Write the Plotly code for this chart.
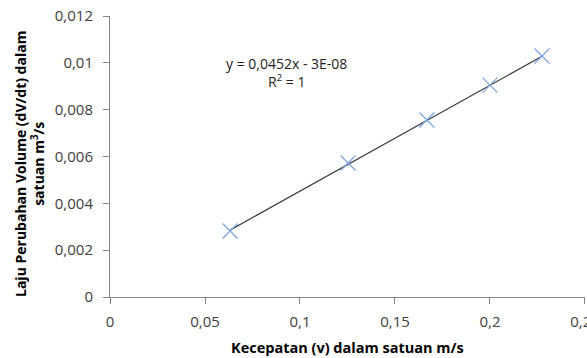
import plotly.graph_objects as go

# Data
kecepatan = [0.0632, 0.1253, 0.1668, 0.2000, 0.2274]
laju_volume = [0.00282, 0.00572, 0.00756, 0.00905, 0.01029]

# Trendline (from displayed equation)
slope = 0.0452
intercept = -3e-08

x_tickvals = [0, 0.05, 0.1, 0.15, 0.2, 0.25]
x_ticktext = ["0", "0,05", "0,1", "0,15", "0,2", "0,25"]
y_tickvals = [0, 0.002, 0.004, 0.006, 0.008, 0.010, 0.012]
y_ticktext = ["0", "0,002", "0,004", "0,006", "0,008", "0,01", "0,012"]

trend_x = [min(kecepatan), max(kecepatan)]
trend_y = [slope * v + intercept for v in trend_x]

W, H = 587, 358
ML, MR, MT, MB = 110, 2, 16, 61

fig = go.Figure()
fig.add_trace(go.Scatter(x=trend_x, y=trend_y, mode="lines",
                         line=dict(color="#3a3a3a", width=1.2), hoverinfo="skip"))
fig.add_trace(go.Scatter(x=kecepatan, y=laju_volume, mode="markers",
                         marker=dict(symbol="x-thin", size=15,
                                     line=dict(color="#7ea6dc", width=1.3))))

font_family = "'Open Sans', sans-serif"
axis_common = dict(showgrid=False, zeroline=False, showline=True,
                   linecolor="#868686", linewidth=1, ticks="outside",
                   ticklen=6, tickcolor="#868686", automargin=False,
                   ticklabeloverflow="allow",
                   tickfont=dict(family=font_family, size=15, color="#404040"))

def px_x(px):
    return (px - ML) / (W - ML - MR)

def px_y(py):
    return (H - MB - py) / (H - MT - MB)

fig.update_layout(
    width=W, height=H,
    margin=dict(l=ML, r=MR, t=MT, b=MB, autoexpand=False),
    paper_bgcolor="white", plot_bgcolor="white",
    showlegend=False,
    font=dict(family=font_family),
    xaxis=dict(range=[0, 0.25001], tickvals=x_tickvals, ticktext=x_ticktext,
               ticklabelstandoff=5, **axis_common),
    yaxis=dict(range=[0, 0.012001], tickvals=y_tickvals, ticktext=y_ticktext,
               ticklabelstandoff=7, **axis_common),
    annotations=[
        dict(x=px_x(286), y=px_y(72), xref="paper", yref="paper", showarrow=False,
             xanchor="center", yanchor="middle", align="center",
             text="y = 0,0452x - 3E-08<br>R<sup>2</sup> = 1",
             font=dict(family=font_family, size=14, color="#222")),
        dict(x=px_x(347), y=px_y(347), xref="paper", yref="paper", showarrow=False,
             xanchor="center", yanchor="middle",
             text="<b>Kecepatan (v) dalam satuan m/s</b>",
             font=dict(family=font_family, size=14.5, color="#000")),
        dict(x=px_x(29), y=px_y(164), xref="paper", yref="paper", showarrow=False,
             xanchor="center", yanchor="middle", textangle=-90,
             text="<b>Laju Perubahan Volume (dV/dt) dalam<br>satuan m<sup>3</sup>/s</b>",
             font=dict(family=font_family, size=14, color="#000")),
    ],
)

fig.write_html("out.html", config={"displayModeBar": False},
               post_script="document.body.style.margin='0';document.body.style.overflow='hidden';")
